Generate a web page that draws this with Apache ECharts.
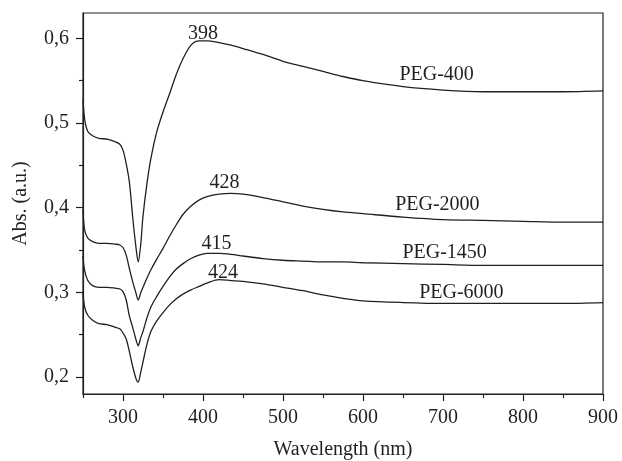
<!DOCTYPE html>
<html>
<head>
<meta charset="utf-8">
<title>UV-Vis PEG</title>
<script src="https://cdn.jsdelivr.net/npm/echarts@6/dist/echarts.min.js"></script>
<style>
  html, body { margin: 0; padding: 0; background: #fff; }
  #chart { width: 622px; height: 461px; }
</style>
</head>
<body>
<div id="chart"></div>
<script>
  // wavelength grid (nm) shared by all spectra
  const wavelength = [250, 252, 256, 262, 270, 280, 290, 296, 300, 304, 308, 312, 316, 319, 322, 325, 330, 335, 342, 350,
    358, 366, 375, 385, 395, 405, 420, 435, 450, 475, 500, 525, 550, 575, 600, 650, 700, 750, 800, 850, 900];

  // absorbance
  const peg400 = [0.528, 0.505, 0.490, 0.485, 0.482, 0.481, 0.478, 0.475, 0.468, 0.452, 0.430, 0.390, 0.355, 0.336, 0.355, 0.390, 0.429, 0.459, 0.489, 0.513,
    0.534, 0.556, 0.576, 0.592, 0.597, 0.597, 0.595, 0.592, 0.588, 0.581, 0.573, 0.567, 0.561, 0.555, 0.550, 0.543, 0.539, 0.537, 0.537, 0.537, 0.538];
  const peg2000 = [0.398, 0.374, 0.364, 0.360, 0.358, 0.358, 0.357, 0.356, 0.353, 0.344, 0.328, 0.313, 0.300, 0.291, 0.299, 0.306, 0.317, 0.327, 0.339, 0.352,
    0.366, 0.379, 0.392, 0.402, 0.409, 0.413, 0.416, 0.417, 0.416, 0.412, 0.407, 0.402, 0.398, 0.395, 0.393, 0.389, 0.386, 0.385, 0.384, 0.383, 0.383];
  const peg1450 = [0.343, 0.326, 0.314, 0.308, 0.306, 0.306, 0.305, 0.304, 0.301, 0.291, 0.272, 0.259, 0.245, 0.237, 0.246, 0.254, 0.270, 0.283, 0.295, 0.307,
    0.318, 0.327, 0.334, 0.340, 0.344, 0.346, 0.346, 0.345, 0.343, 0.340, 0.338, 0.337, 0.336, 0.336, 0.335, 0.334, 0.333, 0.332, 0.332, 0.332, 0.332];
  const peg6000 = [0.300, 0.283, 0.273, 0.267, 0.263, 0.262, 0.259, 0.257, 0.252, 0.245, 0.230, 0.213, 0.199, 0.194, 0.205, 0.218, 0.239, 0.254, 0.266, 0.276,
    0.285, 0.292, 0.298, 0.303, 0.307, 0.311, 0.315, 0.314, 0.313, 0.310, 0.306, 0.302, 0.297, 0.293, 0.290, 0.288, 0.287, 0.287, 0.287, 0.287, 0.288];

  const seriesNames = ['PEG-400', 'PEG-2000', 'PEG-1450', 'PEG-6000'];
  const seriesValues = [peg400, peg2000, peg1450, peg6000];

  // annotations: name label anchor and peak label anchor, in data units
  const nameAnchor = [[692, 0.557], [693, 0.404], [702, 0.347], [723, 0.300]];
  const peakText = ['398', '428', '415', '424'];
  const peakAnchor = [[400, 0.606], [427, 0.430], [417, 0.358], [425, 0.323]];

  // axis ticks
  const xMajor = [300, 400, 500, 600, 700, 800, 900];
  const xMinor = [250, 350, 450, 550, 650, 750, 850];
  const yMajor = [0.2, 0.3, 0.4, 0.5, 0.6];
  const yMinor = [0.25, 0.35, 0.45, 0.55];

  const ink = '#231f20';
  const font = '"Liberation Serif", "DejaVu Serif", serif';
  const chart = echarts.init(document.getElementById('chart'));

  const baseX = {type: 'value', min: 250, max: 900, position: 'bottom'};
  const baseY = {type: 'value', min: 0.18, max: 0.63, position: 'left'};

  const option = {
    animation: false,
    backgroundColor: '#fff',
    grid: {
      left: 83, right: 19, top: 13, bottom: 67,
      outerBoundsMode: 'none',
      show: true, borderColor: ink, borderWidth: 1.2
    },
    xAxis: [
      Object.assign({}, baseX, {
        name: 'Wavelength (nm)',
        nameLocation: 'middle',
        nameGap: 46,
        nameTextStyle: {color: ink, fontFamily: font, fontSize: 20},
        axisLine: {lineStyle: {color: ink, width: 1.2}},
        axisTick: {length: 7, customValues: xMajor, lineStyle: {color: ink, width: 1.2}},
        axisLabel: {customValues: xMajor, margin: 14, color: ink, fontFamily: font, fontSize: 20},
        splitLine: {show: false}
      }),
      Object.assign({}, baseX, {
        axisLine: {show: false},
        axisTick: {length: 4, customValues: xMinor, lineStyle: {color: ink, width: 1.2}},
        axisLabel: {show: false},
        splitLine: {show: false}
      })
    ],
    yAxis: [
      Object.assign({}, baseY, {
        name: 'Abs. (a.u.)',
        nameLocation: 'middle',
        nameGap: 52,
        nameTextStyle: {color: ink, fontFamily: font, fontSize: 20},
        axisLine: {show: true, lineStyle: {color: ink, width: 1.2}},
        axisTick: {show: true, length: 7, customValues: yMajor, lineStyle: {color: ink, width: 1.2}},
        axisLabel: {
          customValues: yMajor, margin: 14, color: ink, fontFamily: font, fontSize: 20,
          formatter: function (v) { return v.toFixed(1).replace('.', ','); }
        },
        splitLine: {show: false}
      }),
      Object.assign({}, baseY, {
        axisLine: {show: false},
        axisTick: {show: true, length: 4, customValues: yMinor, lineStyle: {color: ink, width: 1.2}},
        axisLabel: {show: false},
        splitLine: {show: false}
      })
    ],
    series: []
  };

  seriesNames.forEach(function (name, i) {
    option.series.push({
      name: name,
      type: 'line',
      smooth: 0.3,
      showSymbol: false,
      lineStyle: {color: ink, width: 1.3},
      data: wavelength.map(function (w, k) { return [w, seriesValues[i][k]]; }),
      markPoint: {
        symbol: 'circle',
        symbolSize: 0,
        label: {show: true, position: 'inside', color: ink, fontFamily: font, fontSize: 20},
        data: [
          {coord: nameAnchor[i], value: name, label: {formatter: name}},
          {coord: peakAnchor[i], value: peakText[i], label: {formatter: peakText[i]}}
        ]
      }
    });
  });

  chart.setOption(option);
</script>
</body>
</html>
